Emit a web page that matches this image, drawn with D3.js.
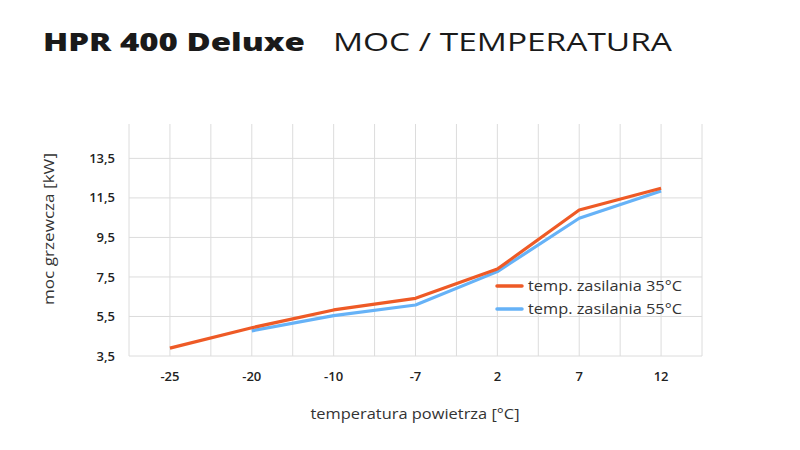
<!DOCTYPE html>
<html><head><meta charset="utf-8">
<script src="https://cdn.jsdelivr.net/npm/d3@7"></script>
<style>body{margin:0;background:#fff;}svg{display:block;}</style>
</head><body>
<svg id="c" width="800" height="450"></svg>
<script>
const categories = ["-25","-20","-10","-7","2","7","12"];
const series35 = [3.9, 4.93, 5.83, 6.42, 7.9, 10.89, 11.99];
const series55 = [null, 4.77, 5.54, 6.08, 7.77, 10.47, 11.85];
const yTicks = [3.5, 5.5, 7.5, 9.5, 11.5, 13.5];
const seriesNames = ["temp. zasilania 35°C", "temp. zasilania 55°C"];
const colors = ["#EE5A26", "#66B2F7"];

const svg = d3.select("#c");
const font = "'Open Sans', 'Noto Sans', sans-serif";
const L = 129, R = 702, T = 124, B = 356;
const x = d3.scaleBand().domain(categories).range([L, R]).paddingInner(0).paddingOuter(0);
const y = d3.scaleLinear().domain([3.5, 15.24]).range([B, T]);

// title
svg.append("text").attr("x", 43).attr("y", 51).attr("font-family", font)
  .attr("font-weight", 800).attr("font-size", 25).attr("fill", "#1a1a1a")
  .attr("textLength", 262).attr("lengthAdjust", "spacingAndGlyphs")
  .text("HPR 400 Deluxe");
svg.append("text").attr("x", 333).attr("y", 51).attr("font-family", font)
  .attr("font-weight", 400).attr("font-size", 25).attr("fill", "#1a1a1a")
  .attr("textLength", 339).attr("lengthAdjust", "spacingAndGlyphs")
  .text("MOC / TEMPERATURA");

// grid
const g = svg.append("g");
const vx = [];
categories.forEach(c => { vx.push(x(c)); vx.push(x(c) + x.bandwidth() / 2); });
vx.push(R);
g.selectAll("line.v").data(vx).enter().append("line")
  .attr("x1", d => d).attr("x2", d => d).attr("y1", T).attr("y2", B)
  .attr("stroke", "#dcdcdc").attr("stroke-width", 1);
g.selectAll("line.h").data(yTicks).enter().append("line")
  .attr("x1", L).attr("x2", R).attr("y1", d => y(d)).attr("y2", d => y(d))
  .attr("stroke", "#dcdcdc").attr("stroke-width", 1);

// y tick labels
svg.append("g").selectAll("text").data(yTicks).enter().append("text")
  .attr("x", 115).attr("y", d => y(d)).attr("dy", "0.35em").attr("text-anchor", "end")
  .attr("font-family", font).attr("font-weight", 600).attr("font-size", 13).attr("fill", "#222")
  .text(d => String(d).replace(".", ","));
// x tick labels
svg.append("g").selectAll("text").data(categories).enter().append("text")
  .attr("x", d => x(d) + x.bandwidth() / 2).attr("y", 376).attr("dy", "0.35em").attr("text-anchor", "middle")
  .attr("font-family", font).attr("font-weight", 600).attr("font-size", 13).attr("fill", "#222")
  .text(d => d);

// axis titles
svg.append("text").attr("transform", "translate(54,229) rotate(-90)").attr("text-anchor", "middle")
  .attr("font-family", font).attr("font-size", 15).attr("fill", "#333")
  .attr("textLength", 152).attr("lengthAdjust", "spacingAndGlyphs").text("moc grzewcza [kW]");
svg.append("text").attr("x", 415).attr("y", 419).attr("text-anchor", "middle")
  .attr("font-family", font).attr("font-size", 15).attr("fill", "#333")
  .attr("textLength", 209).attr("lengthAdjust", "spacingAndGlyphs").text("temperatura powietrza [°C]");

// lines
const line = d3.line().defined(d => d.v != null)
  .x(d => x(d.c) + x.bandwidth() / 2).y(d => y(d.v));
[series55, series35].forEach((s, i) => {
  const idx = i === 0 ? 1 : 0;
  svg.append("path").datum(categories.map((c, j) => ({ c, v: s[j] })))
    .attr("d", line).attr("fill", "none").attr("stroke", colors[idx])
    .attr("stroke-width", 3.2).attr("stroke-linejoin", "round");
});

// legend
seriesNames.forEach((n, i) => {
  const ly = 286 + i * 23;
  svg.append("line").attr("x1", 497).attr("x2", 522).attr("y1", ly).attr("y2", ly)
    .attr("stroke", colors[i]).attr("stroke-width", 3.5).attr("stroke-linecap", "round");
  svg.append("text").attr("x", 528).attr("y", ly).attr("dy", "0.35em")
    .attr("font-family", font).attr("font-size", 14.5).attr("fill", "#333")
    .attr("textLength", 154).attr("lengthAdjust", "spacingAndGlyphs").text(n);
});
</script>
</body></html>
